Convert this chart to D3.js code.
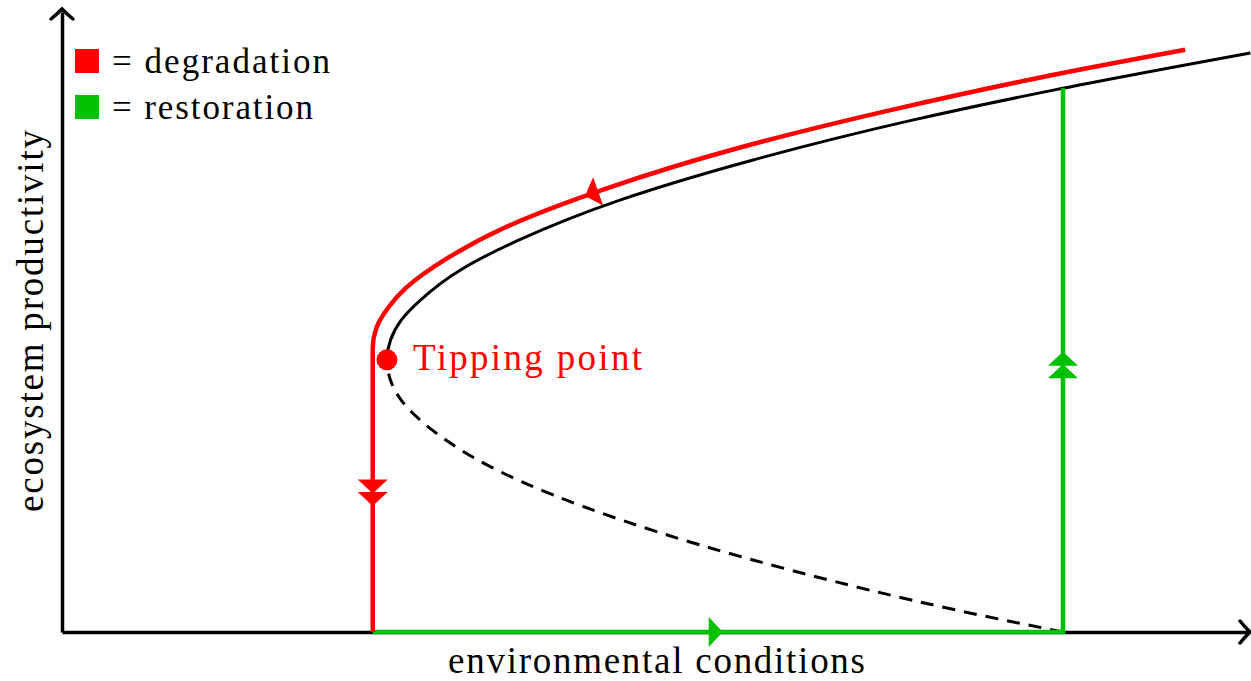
<!DOCTYPE html>
<html>
<head>
<meta charset="utf-8">
<script src="https://cdn.jsdelivr.net/npm/d3@7"></script>
<style>
  html, body { margin: 0; padding: 0; background: #fff; }
  svg { display: block; }
</style>
</head>
<body>
<svg id="chart" width="1251" height="681"></svg>
<script>
// ---------- data (in chart units 0..100) ----------
// black equilibrium curve, ordered by productivity (bottom -> top)
const equilibriumCurve = [
  [84.4, 0], [75.5, 3.5], [61.4, 10.0], [47.1, 18.1], [36.7, 26.1], [31.2, 32.6],
  [28.6, 37.4], [27.7, 40.6], [27.4, 43.9],
  [27.7, 47.1], [28.6, 50.3], [30.2, 53.5], [33.6, 58.4], [38.5, 63.2],
  [47.1, 69.7], [58.2, 76.1], [71.8, 82.6], [83.6, 87.4], [100.2, 93.4]
];
const tippingPoint = [27.4, 43.9];
// red degradation path (drawn bottom -> top, travelled top -> bottom)
const degradationPath = [
  [26.2, 0], [26.2, 45.8], [26.5, 49.0], [27.5, 52.3], [29.0, 55.5], [32.5, 60.3],
  [37.3, 65.2], [46.0, 71.6], [57.1, 78.1], [70.6, 84.5], [82.4, 89.4], [94.7, 93.9]
];
// green restoration path
const restorationPath = [[26.2, 0], [84.4, 0], [84.4, 87.7]];
// arrow heads: where their tip sits on a path, how many, travel direction
const arrowHeads = [
  { path: "degradation", key: "y", value: 20.3, count: 2, reverse: true },
  { path: "degradation", key: "x", value: 44.1, count: 1, reverse: true },
  { path: "restoration", key: "x", value: 55.7, count: 1, reverse: false },
  { path: "restoration", key: "y", value: 45.2, count: 2, reverse: false }
];
const legendLabels = ["= degradation", "= restoration"];
const xLabel = "environmental conditions";
const yLabel = "ecosystem productivity";
const tipLabel = "Tipping point";

// ---------- drawing ----------
const RED = "#ff0000", GREEN = "#00c000";
const FONT = "'Liberation Serif', 'Times New Roman', Times, 'DejaVu Serif', serif";
const svg = d3.select("#chart");
const x = d3.scaleLinear().domain([0, 100]).range([62, 1248]);
const y = d3.scaleLinear().domain([0, 100]).range([632, 12]);

// axes (no ticks), with chevron arrow tips
svg.append("g").attr("transform", `translate(0,${y(0)})`)
  .call(d3.axisBottom(x).ticks(0).tickSizeOuter(0))
  .call(g => g.select(".domain").attr("stroke", "#000").attr("stroke-width", 3.5));
svg.append("g").attr("transform", `translate(${x(0)},0)`)
  .call(d3.axisLeft(y).ticks(0).tickSizeOuter(0))
  .call(g => g.select(".domain").attr("stroke", "#000").attr("stroke-width", 3.5));
svg.append("line").attr("x1", x(0)).attr("x2", x(0)).attr("y1", y(100)).attr("y2", y(100) - 3)
  .attr("stroke", "#000").attr("stroke-width", 3.5);
svg.append("line").attr("x1", x(100)).attr("x2", x(100) + 2).attr("y1", y(0)).attr("y2", y(0))
  .attr("stroke", "#000").attr("stroke-width", 3.5);
const chevron = "M-10,-11 C-6,-6 -2,-2 0,0 C-2,2 -6,6 -10,11";
svg.append("path").attr("d", chevron)
  .attr("transform", `translate(${x(100) + 2},${y(0)})`)
  .attr("fill", "none").attr("stroke", "#000").attr("stroke-width", 3.5).attr("stroke-linecap", "round");
svg.append("path").attr("d", chevron)
  .attr("transform", `translate(${x(0)},${y(100) - 3}) rotate(-90)`)
  .attr("fill", "none").attr("stroke", "#000").attr("stroke-width", 3.5).attr("stroke-linecap", "round");

const lineY = d3.line().x(d => x(d[0])).y(d => y(d[1])).curve(d3.curveMonotoneY);
const lineL = d3.line().x(d => x(d[0])).y(d => y(d[1]));

// clip regions: above / below tipping point
const defs = svg.append("defs");
defs.append("clipPath").attr("id", "above").append("rect")
  .attr("x", 0).attr("y", 0).attr("width", 1251).attr("height", y(tippingPoint[1]));
defs.append("clipPath").attr("id", "below").append("rect")
  .attr("x", 0).attr("y", y(tippingPoint[1])).attr("width", 1251).attr("height", 681);

svg.append("path").datum(equilibriumCurve).attr("d", lineY)
  .attr("clip-path", "url(#above)")
  .attr("fill", "none").attr("stroke", "#000").attr("stroke-width", 3);
svg.append("path").datum(equilibriumCurve).attr("d", lineY)
  .attr("clip-path", "url(#below)")
  .attr("fill", "none").attr("stroke", "#000").attr("stroke-width", 3)
  .attr("stroke-dasharray", "13,9");

const paths = {};
paths.restoration = svg.append("path").datum(restorationPath).attr("d", lineL)
  .attr("fill", "none").attr("stroke", GREEN).attr("stroke-width", 4.5)
  .attr("stroke-linejoin", "miter").node();
paths.degradation = svg.append("path").datum(degradationPath).attr("d", lineY)
  .attr("fill", "none").attr("stroke", RED).attr("stroke-width", 4.5).node();
const pathColor = { restoration: GREEN, degradation: RED };

// tipping point
svg.append("circle").attr("cx", x(tippingPoint[0])).attr("cy", y(tippingPoint[1]))
  .attr("r", 10.5).attr("fill", RED);

// arrow heads along paths
const tri = "M0,0 L-14,-15 L-14,15 Z";
arrowHeads.forEach(a => {
  const node = paths[a.path];
  const total = node.getTotalLength();
  const target = a.key === "x" ? x(a.value) : y(a.value);
  let best = 0, bestD = Infinity;
  for (let l = 0; l <= total; l += 0.5) {
    const p = node.getPointAtLength(l);
    const d = Math.abs((a.key === "x" ? p.x : p.y) - target);
    if (d < bestD) { bestD = d; best = l; }
  }
  const p0 = node.getPointAtLength(Math.max(0, best - 2));
  const p1 = node.getPointAtLength(Math.min(total, best + 2));
  let ang = Math.atan2(p1.y - p0.y, p1.x - p0.x) * 180 / Math.PI;
  if (a.reverse) ang += 180;
  const p = node.getPointAtLength(best);
  for (let i = 0; i < a.count; i++) {
    svg.append("path").attr("d", tri)
      .attr("transform", `translate(${p.x},${p.y}) rotate(${ang}) translate(${-i * 12.5},0)`)
      .attr("fill", pathColor[a.path]);
  }
});

// legend
const legendColors = [RED, GREEN];
legendLabels.forEach((t, i) => {
  svg.append("rect").attr("x", 75).attr("y", 49 + i * 46).attr("width", 24).attr("height", 24)
    .attr("fill", legendColors[i]);
  svg.append("text").attr("x", 112).attr("y", 73 + i * 45.5)
    .attr("font-family", FONT).attr("font-size", 35).attr("fill", "#000")
    .attr("textLength", i === 0 ? 218 : 201).attr("lengthAdjust", "spacing")
    .text(t);
});

// labels
svg.append("text").attr("x", 413).attr("y", 370)
  .attr("font-family", FONT).attr("font-size", 37).attr("fill", RED)
  .attr("textLength", 229).attr("lengthAdjust", "spacing").text(tipLabel);
svg.append("text").attr("x", 448).attr("y", 673)
  .attr("font-family", FONT).attr("font-size", 37).attr("fill", "#000")
  .attr("textLength", 417).attr("lengthAdjust", "spacing").text(xLabel);
svg.append("text").attr("transform", "translate(43,512) rotate(-90)")
  .attr("font-family", FONT).attr("font-size", 37).attr("fill", "#000")
  .attr("textLength", 382).attr("lengthAdjust", "spacing").text(yLabel);
</script>
</body>
</html>
